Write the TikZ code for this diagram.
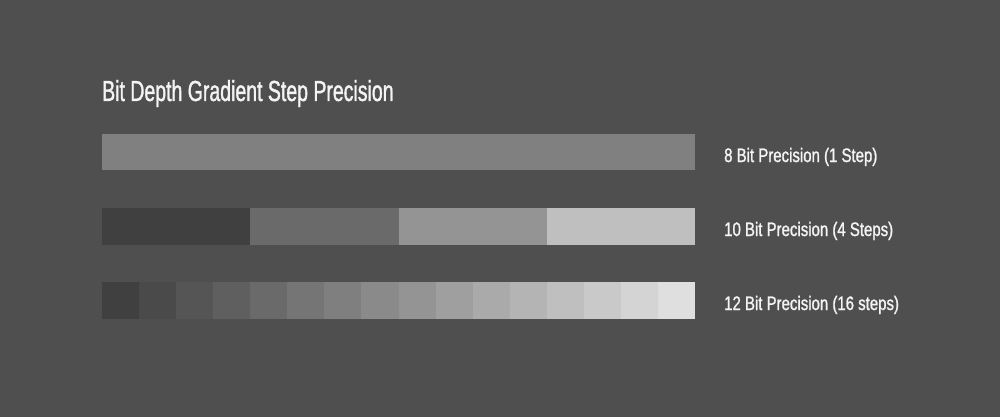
\documentclass[tikz,border=0pt]{standalone}
\usepackage{fontspec}
\newfontfamily\titlefont[FakeStretch=0.672,FakeBold=1.2]{Liberation Sans}
\newfontfamily\labelfont[FakeStretch=0.768,FakeBold=1.2]{Liberation Sans}
\definecolor{bg}{HTML}{4F4F4F}
\definecolor{txt}{HTML}{F4F4F4}
\tikzset{
  lbl/.style={anchor=base west, inner sep=0pt, text=txt, font=\labelfont\fontsize{19.5}{22}\selectfont},
  ttl/.style={anchor=base west, inner sep=0pt, text=txt, font=\titlefont\fontsize{29}{32}\selectfont},
}
\begin{document}
\begin{tikzpicture}[x=1pt,y=-1pt]
\fill[bg] (0,0) rectangle (1000,417);
\useasboundingbox (0,0) rectangle (1000,417);
\node[ttl] (title) at (102,101) {Bit Depth Gradient Step Precision};
% bar 1
\fill[fill={rgb,255:red,128;green,128;blue,128}] (102,134) rectangle (695,170);
% bar 2
\foreach \i/\g in {0/64,1/106,2/148,3/191}{
  \fill[fill={rgb,255:red,\g;green,\g;blue,\g}] ({102+\i*148.25},208) rectangle ({102+(\i+1)*148.25},245);
}
% bar 3
\foreach \i in {0,...,15}{
  \pgfmathtruncatemacro{\g}{64+\i*10.6}
  \fill[fill={rgb,255:red,\g;green,\g;blue,\g}] ({102+\i*37.0625},282) rectangle ({102+(\i+1)*37.0625},319);
}
\node[lbl] (l1) at (724,162) {8 Bit Precision (1 Step)};
\node[lbl] (l2) at (724,236) {10 Bit Precision (4 Steps)};
\node[lbl] (l3) at (724,310) {12 Bit Precision (16 steps)};
\end{tikzpicture}
\end{document}
